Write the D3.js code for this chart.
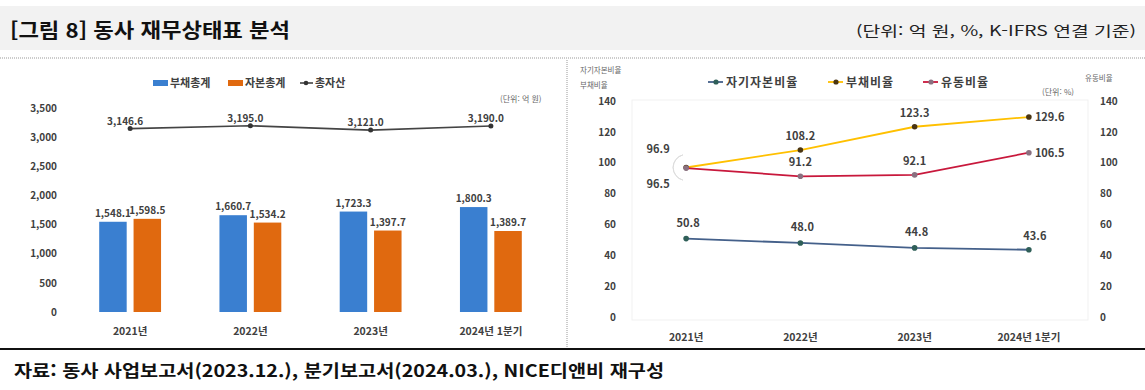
<!DOCTYPE html>
<html lang="ko">
<head>
<meta charset="utf-8">
<title>동사 재무상태표 분석</title>
<script src="https://cdn.jsdelivr.net/npm/d3@7"></script>
<style>
  body { margin: 0; background: #fff; }
  svg { display: block; font-family: "Noto Sans CJK KR", "Noto Sans", sans-serif; }
</style>
</head>
<body>
<svg width="1145" height="390"></svg>
<script>
// ---- data ----
const categories = ['2021년', '2022년', '2023년', '2024년 1분기'];
const debtTotal = [1548.1, 1660.7, 1723.3, 1800.3];
const equityTotal = [1598.5, 1534.2, 1397.7, 1389.7];
const totalAssets = [3146.6, 3195.0, 3121.0, 3190.0];
const leftTicks = [0, 500, 1000, 1500, 2000, 2500, 3000, 3500];

const equityRatio = [50.8, 48.0, 44.8, 43.6];
const debtRatio = [96.9, 108.2, 123.3, 129.6];
const currentRatio = [96.5, 91.2, 92.1, 106.5];
const ratioTicks = [0, 20, 40, 60, 80, 100, 120, 140];

const svg = d3.select('svg');
const txt = '#404040';

// ---- frame ----
svg.append('rect').attr('x', 0).attr('y', 6).attr('width', 1145).attr('height', 44).attr('fill', '#f2f2f2');
svg.append('text').attr('x', 10).attr('y', 38)
  .attr('font-size', 20).attr('font-weight', 'bold').attr('fill', '#111')
  .attr('textLength', 280).attr('lengthAdjust', 'spacingAndGlyphs')
  .text('[그림 8] 동사 재무상태표 분석');
svg.append('text').attr('x', 1136).attr('y', 36).attr('text-anchor', 'end')
  .attr('font-size', 14).attr('fill', '#222')
  .attr('textLength', 280).attr('lengthAdjust', 'spacingAndGlyphs')
  .text('(단위: 억 원, %, K-IFRS 연결 기준)');
svg.append('line').attr('x1', 0).attr('x2', 1145).attr('y1', 58).attr('y2', 58)
  .attr('stroke', '#999').attr('stroke-dasharray', '1,1');
svg.append('line').attr('x1', 567).attr('x2', 567).attr('y1', 60).attr('y2', 348)
  .attr('stroke', '#999').attr('stroke-dasharray', '1,1');
svg.append('line').attr('x1', 0).attr('x2', 1145).attr('y1', 349).attr('y2', 349)
  .attr('stroke', '#111').attr('stroke-width', 2);
svg.append('text').attr('x', 14).attr('y', 377)
  .attr('font-size', 17).attr('font-weight', 'bold').attr('fill', '#111')
  .attr('textLength', 650).attr('lengthAdjust', 'spacingAndGlyphs')
  .text('자료: 동사 사업보고서(2023.12.), 분기보고서(2024.03.), NICE디앤비 재구성');

// ---- left chart: bars + total assets ----
const fmt = d3.format(',.1f');
const x0 = d3.scaleBand().domain(categories).range([70, 551]);
const x1 = d3.scaleBand().domain(['debt', 'equity']).range([0, x0.bandwidth()])
  .paddingInner(0.2).paddingOuter(0.85);
const yL = d3.scaleLinear().domain([0, 3500]).range([312, 108]);
const blue = '#3a7fd0', orange = '#e0690f';

const left = svg.append('g');
left.append('g').attr('transform', 'translate(62,0)')
  .call(d3.axisLeft(yL).tickValues(leftTicks).tickSize(0).tickPadding(5).tickFormat(d3.format(',')))
  .call(g => g.select('.domain').remove())
  .selectAll('text').attr('font-size', 10).attr('font-weight', 'bold').attr('fill', txt)
  .attr('font-family', '"Noto Sans CJK KR", sans-serif');

left.append('g').selectAll('text').data(categories).join('text')
  .attr('x', d => x0(d) + x0.bandwidth() / 2).attr('y', 335)
  .attr('text-anchor', 'middle').attr('font-size', 10.5).attr('font-weight', 'bold').attr('fill', txt)
  .text(d => d);

const barSeries = [
  { key: 'debt', values: debtTotal, color: blue },
  { key: 'equity', values: equityTotal, color: orange }
];
barSeries.forEach(s => {
  const g = left.append('g');
  g.selectAll('rect').data(s.values).join('rect')
    .attr('x', (d, i) => x0(categories[i]) + x1(s.key))
    .attr('width', x1.bandwidth())
    .attr('y', d => yL(d)).attr('height', d => yL(0) - yL(d))
    .attr('fill', s.color);
  g.selectAll('text').data(s.values).join('text')
    .attr('x', (d, i) => x0(categories[i]) + x1(s.key) + x1.bandwidth() / 2)
    .attr('y', d => yL(d) - 5)
    .attr('text-anchor', 'middle').attr('font-size', 10).attr('font-weight', 'bold').attr('fill', txt)
    .text(d => fmt(d));
});

const cx0 = d => x0(d) + x0.bandwidth() / 2;
left.append('path').datum(totalAssets)
  .attr('fill', 'none').attr('stroke', '#444').attr('stroke-width', 1.6)
  .attr('d', d3.line().x((d, i) => cx0(categories[i])).y(d => yL(d)));
left.append('g').selectAll('circle').data(totalAssets).join('circle')
  .attr('cx', (d, i) => cx0(categories[i])).attr('cy', d => yL(d)).attr('r', 2.5).attr('fill', '#333');
left.append('g').selectAll('text').data(totalAssets).join('text')
  .attr('x', (d, i) => cx0(categories[i]) - 5).attr('y', d => yL(d) - 4)
  .attr('text-anchor', 'middle').attr('font-size', 10).attr('font-weight', 'bold').attr('fill', txt)
  .text(d => fmt(d));

// left legend
const lgL = left.append('g').attr('font-size', 11).attr('font-weight', 'bold').attr('fill', txt);
[{ x: 153, c: blue, t: '부채총계' }, { x: 228, c: orange, t: '자본총계' }].forEach(l => {
  lgL.append('rect').attr('x', l.x).attr('y', 80).attr('width', 15).attr('height', 6).attr('fill', l.c);
  lgL.append('text').attr('x', l.x + 17).attr('y', 87).text(l.t);
});
lgL.append('line').attr('x1', 300).attr('x2', 313).attr('y1', 83).attr('y2', 83).attr('stroke', '#444').attr('stroke-width', 1.6);
lgL.append('circle').attr('cx', 306).attr('cy', 83).attr('r', 2.3).attr('fill', '#333');
lgL.append('text').attr('x', 315).attr('y', 87).text('총자산');
left.append('text').attr('x', 500).attr('y', 102).attr('font-size', 8).attr('fill', '#666').text('(단위: 억 원)');

// ---- right chart: ratios ----
const xR = d3.scaleBand().domain(categories).range([629, 1086]);
const yR = d3.scaleLinear().domain([0, 140]).range([317, 101]);
const cxR = d => xR(d) + xR.bandwidth() / 2;
const right = svg.append('g');

right.append('rect').attr('x', 632).attr('y', 100).attr('width', 456).attr('height', 220)
  .attr('fill', 'none').attr('stroke', '#f1f1f1');

right.append('g').attr('transform', 'translate(621,0)')
  .call(d3.axisLeft(yR).tickValues(ratioTicks).tickSize(0).tickPadding(5))
  .call(g => g.select('.domain').remove())
  .selectAll('text').attr('font-size', 10).attr('font-weight', 'bold').attr('fill', txt)
  .attr('font-family', '"Noto Sans CJK KR", sans-serif');
right.append('g').attr('transform', 'translate(1095,0)')
  .call(d3.axisRight(yR).tickValues(ratioTicks).tickSize(0).tickPadding(5))
  .call(g => g.select('.domain').remove())
  .selectAll('text').attr('font-size', 10).attr('font-weight', 'bold').attr('fill', txt)
  .attr('font-family', '"Noto Sans CJK KR", sans-serif');

right.append('g').selectAll('text').data(categories).join('text')
  .attr('x', d => cxR(d)).attr('y', 341)
  .attr('text-anchor', 'middle').attr('font-size', 10.5).attr('font-weight', 'bold').attr('fill', txt)
  .text(d => d);

const axTitle = right.append('g').attr('font-size', 7.5).attr('fill', '#666');
axTitle.append('text').attr('x', 580).attr('y', 73).text('자기자본비율');
axTitle.append('text').attr('x', 580).attr('y', 88).text('부채비율');
axTitle.append('text').attr('x', 1085).attr('y', 81).text('유동비율');
axTitle.append('text').attr('x', 1042).attr('y', 95).attr('font-size', 8).text('(단위: %)');

const ratioSeries = [
  { name: '자기자본비율', values: equityRatio, line: '#44608a', dot: '#2f5f58', lx: 708,
    place: (d, i) => i === 3 ? [6, -10, 'middle'] : [2, -12, 'middle'] },
  { name: '부채비율', values: debtRatio, line: '#ffc000', dot: '#4a3512', lx: 828,
    place: (d, i) => i === 0 ? [-28, -14, 'middle'] : i === 3 ? [6, 4, 'start'] : [0, -10, 'middle'] },
  { name: '유동비율', values: currentRatio, line: '#c8183c', dot: '#8a7080', lx: 923,
    place: (d, i) => i === 0 ? [-28, 20, 'middle'] : i === 3 ? [6, 4, 'start'] : [0, -10, 'middle'] }
];

// leader arc for the overlapping 2021 labels
right.append('path')
  .attr('transform', `translate(${cxR(categories[0])},${yR(debtRatio[0])})`)
  .attr('d', d3.arc().innerRadius(13).outerRadius(13).startAngle(Math.PI * 1.08).endAngle(Math.PI * 1.92)())
  .attr('fill', 'none').attr('stroke', '#ddd');

ratioSeries.forEach(s => {
  const g = right.append('g');
  g.append('path').datum(s.values)
    .attr('fill', 'none').attr('stroke', s.line).attr('stroke-width', 1.8)
    .attr('d', d3.line().x((d, i) => cxR(categories[i])).y(d => yR(d)));
  g.selectAll('circle').data(s.values).join('circle')
    .attr('cx', (d, i) => cxR(categories[i])).attr('cy', d => yR(d)).attr('r', 2.8).attr('fill', s.dot);
  g.selectAll('text').data(s.values).join('text')
    .attr('x', (d, i) => cxR(categories[i]) + s.place(d, i)[0])
    .attr('y', (d, i) => yR(d) + s.place(d, i)[1])
    .attr('text-anchor', (d, i) => s.place(d, i)[2])
    .attr('font-size', 11).attr('font-weight', 'bold').attr('fill', txt)
    .text(d => d.toFixed(1));

  // legend entry
  const lg = right.append('g');
  lg.append('line').attr('x1', s.lx).attr('x2', s.lx + 15).attr('y1', 82).attr('y2', 82)
    .attr('stroke', s.line).attr('stroke-width', 1.8);
  lg.append('circle').attr('cx', s.lx + 8).attr('cy', 82).attr('r', 2.6).attr('fill', s.dot);
  lg.append('text').attr('x', s.lx + 18).attr('y', 86.5)
    .attr('font-size', 12).attr('font-weight', 'bold').attr('fill', txt).attr('letter-spacing', 1)
    .text(s.name);
});
</script>
</body>
</html>
